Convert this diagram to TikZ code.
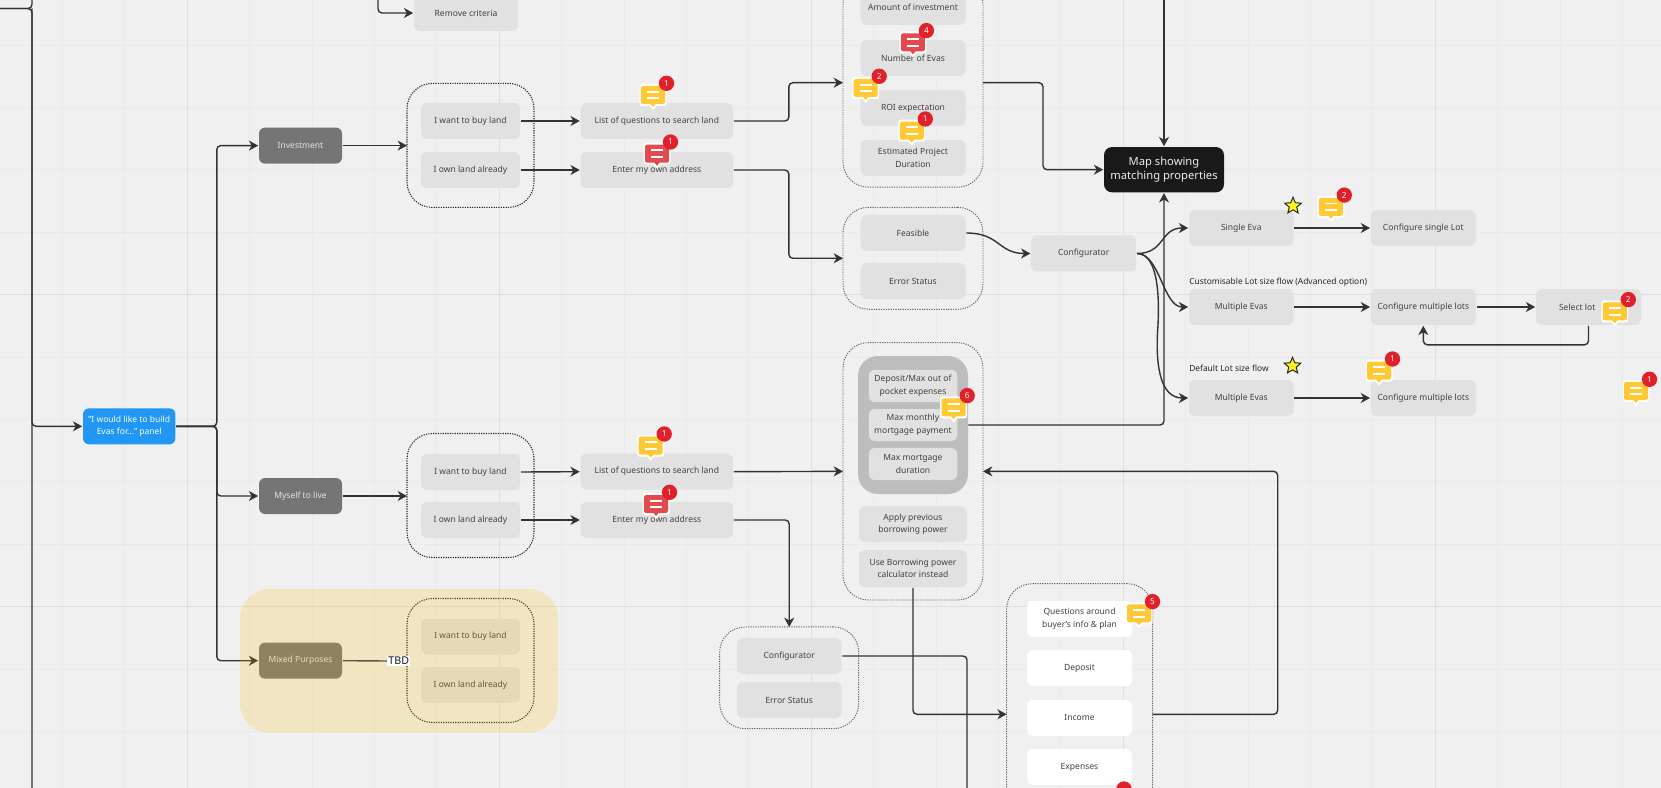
\documentclass[tikz,border=0pt]{standalone}
\usepackage{fontspec}
\setmainfont{Noto Sans}
\usetikzlibrary{arrows.meta,shapes.geometric}
\definecolor{bgc}{HTML}{F0F0F0}
\definecolor{gridc}{HTML}{EAEAEA}
\definecolor{boxc}{HTML}{E1E1E1}
\definecolor{txtc}{HTML}{424242}
\definecolor{darkc}{HTML}{757575}
\definecolor{bluec}{HTML}{2196F3}
\definecolor{linec}{HTML}{333333}
\definecolor{yelc}{HTML}{FFC935}
\definecolor{redc}{HTML}{E34A4F}
\definecolor{badgec}{HTML}{E0202A}
\definecolor{graybox}{HTML}{BDBDBD}
\definecolor{overlayc}{RGB}{255,192,0}
\tikzset{
  wh/.style 2 args={minimum width=#1*0.75pt,minimum height=#2*0.75pt},
  basebox/.style={rectangle,inner sep=0pt,outer sep=0.6pt,align=center,rounded corners=4.5pt,
    font=\fontsize{6.4}{9.5}\selectfont},
  box/.style={basebox,fill=boxc,text=txtc},
  whitebox/.style={basebox,fill=white,text=txtc},
  darkbox/.style={basebox,fill=darkc,text=white!90!black},
  bluebox/.style={basebox,fill=bluec,text=white},
  mapbox/.style={basebox,fill=black!90,text=white!92!black,rounded corners=6pt,font=\fontsize{8.4}{10.8}\selectfont},
  grpdark/.style={rectangle,draw=black!85,line width=0.8pt,dash pattern=on 0.9pt off 0.9pt,rounded corners=19pt,inner sep=0pt,outer sep=0pt},
  grplight/.style={rectangle,draw=black!60,line width=0.7pt,dash pattern=on 0.9pt off 0.9pt,rounded corners=19pt,inner sep=0pt,outer sep=0pt},
  conn/.style={draw=linec,line width=1.05pt,rounded corners=3pt,-{Stealth[length=7pt,width=7.5pt,inset=2.2pt]}},
  plain/.style={draw=linec,line width=1.05pt,rounded corners=3pt},
  flowlabel/.style={font=\fontsize{6.3}{8}\selectfont\bfseries,text=black!85,anchor=west,inner sep=0pt},
  starmark/.style={star,star points=5,star point ratio=2.2,fill=yellow!90!white,draw=black!85,line width=0.75pt,inner sep=0pt,minimum size=13pt},
}
% comment marker: name, x, y, fill colour, number
\newcommand{\cmtmark}[5]{%
  \fill[white,rounded corners=2pt] (#2-13.5,#3-11) rectangle (#2+13.5,#3+11);
  \fill[white] (#2-5,#3+9) -- (#2,#3+15) -- (#2+5,#3+9) -- cycle;
  \node[rectangle,fill=#4,rounded corners=1.6pt,minimum width=18pt,minimum height=13.5pt,inner sep=0pt] (#1) at (#2,#3) {};
  \fill[#4] (#2-3,#3+8.5) -- (#2,#3+12) -- (#2+3,#3+8.5) -- cycle;
  \draw[white,line width=1.4pt] (#2-6,#3-3.3) -- (#2+6,#3-3.3) (#2-6,#3+3.3) -- (#2+6,#3+3.3);
  \node[circle,fill=badgec,minimum size=11.5pt,inner sep=0pt,text=white,font=\fontsize{6.2}{7}\selectfont\bfseries] (#1b) at (#2+13.5,#3-11.7) {#5};
}
\begin{document}
\begin{tikzpicture}[x=0.75pt,y=-0.75pt]
\useasboundingbox (0,0) rectangle (1661,788);
\clip (0,0) rectangle (1661,788);
\fill[bgc] (0,0) rectangle (1661,788);
% grid
\foreach \k in {1,2,4,5,6,7,9,10,11,12,14,15,16,17,19,20,21,22,24,25,26}
  \draw[gridc,line width=0.6pt] (\k*62.4,0) -- (\k*62.4,788);
\foreach \k in {0,1,2,3,5,6,7,8,10,11,12}
  \draw[gridc,line width=0.6pt] (0,45+\k*62.4) -- (1661,45+\k*62.4);
\foreach \k in {3,8,13,18,23}
  \draw[gridc!95!black,line width=0.9pt] (\k*62.4,0) -- (\k*62.4,788);
\foreach \k in {4,9}
  \draw[gridc!95!black,line width=0.9pt] (0,45+\k*62.4) -- (1661,45+\k*62.4);

% groups
\node[grpdark,wh={127}{124}] (g1) at (470.5,145.4) {};
\node[grpdark,wh={127}{124}] (g2) at (470.5,495.5) {};
\node[grpdark,wh={127}{124}] (g3) at (470.5,660.5) {};
\node[grplight,wh={140}{209}] (gtop) at (913,82.7) {};
\node[grplight,wh={140}{102}] (gfeas) at (913,258.3) {};
\node[grplight,wh={140}{257.3}] (gbig) at (913,471.35) {};
\node[grplight,wh={139}{101.7}] (gconf) at (789.2,677.8) {};
\node[grplight,wh={146}{261.2}] (gq) at (1079.7,714.3) {};
\node[rectangle,fill=graybox,rounded corners=15pt,wh={110}{138},inner sep=0pt] (gray) at (913,425) {};

% boxes
\node[box,wh={104}{36}] (rem) at (466,13) {Remove criteria};
\node[bluebox,wh={92.4}{36}] (blue) at (129.2,426.3) {"I would like to build\\Evas for..." panel};
\node[darkbox,wh={83}{36}] (inv) at (300.5,145.6) {Investment};
\node[darkbox,wh={83}{36}] (myself) at (300.5,496) {Myself to live};
\node[darkbox,wh={83}{36}] (mixed) at (300.5,660.7) {Mixed Purposes};

\node[box,wh={99}{36}] (buy1) at (470.5,121) {I want to buy land};
\node[box,wh={99}{36}] (own1) at (470.5,170) {I own land already};
\node[box,wh={99}{36}] (buy2) at (470.5,472) {I want to buy land};
\node[box,wh={99}{36}] (own2) at (470.5,520) {I own land already};
\node[box,wh={99}{36}] (buy3) at (470.5,636.5) {I want to buy land};
\node[box,wh={99}{36}] (own3) at (470.5,685) {I own land already};

\node[box,wh={152.5}{36}] (list1) at (656.8,121) {List of questions to search land};
\node[box,wh={152.5}{36}] (enter1) at (656.8,170) {Enter my own address};
\node[box,wh={152.5}{36}] (list2) at (656.8,471.7) {List of questions to search land};
\node[box,wh={152.5}{36}] (enter2) at (656.8,520) {Enter my own address};

\node[box,wh={105}{36}] (amt) at (913,7) {Amount of investment};
\node[box,wh={105}{36}] (num) at (913,58) {Number of Evas};
\node[box,wh={105}{36}] (roi) at (913,108) {ROI expectation};
\node[box,wh={105}{36}] (dur) at (913,158) {Estimated Project\\Duration};
\node[box,wh={105}{36}] (feas) at (913,233) {Feasible};
\node[box,wh={105}{36}] (err1) at (913,281) {Error Status};
\node[box,wh={105}{36}] (conf1) at (1083.7,253.5) {Configurator};

\node[box,wh={88.5}{32.4}] (dep) at (913,386) {Deposit/Max out of\\pocket expenses};
\node[box,wh={88.5}{32}] (mon) at (913,425) {Max monthly\\mortgage payment};
\node[box,wh={88.5}{32}] (mdur) at (913,464) {Max mortgage\\duration};
\node[box,wh={108}{36}] (apply) at (913,524.3) {Apply previous\\borrowing power};
\node[box,wh={108}{37}] (use) at (913,568.5) {Use Borrowing power\\calculator instead};

\node[box,wh={104.5}{36}] (conf2) at (789.2,656) {Configurator};
\node[box,wh={104.5}{36}] (err2) at (789.2,700) {Error Status};

\node[whitebox,wh={105}{36}] (q1) at (1079.5,618.8) {Questions around\\buyer's info \& plan};
\node[whitebox,wh={105}{36}] (q2) at (1079.5,668) {Deposit};
\node[whitebox,wh={105}{36}] (q3) at (1079.5,717.8) {Income};
\node[whitebox,wh={105}{36}] (q4) at (1079.5,767) {Expenses};

\node[mapbox,wh={120}{45.3}] (map) at (1164,169.7) {Map showing\\matching properties};

\node[box,wh={104.6}{36}] (single) at (1241.3,228) {Single Eva};
\node[box,wh={104.9}{36}] (cfgs) at (1423.3,228) {Configure single Lot};
\node[box,wh={104.6}{36}] (mult1) at (1241.3,307) {Multiple Evas};
\node[box,wh={104.9}{36}] (cfgm1) at (1423.3,307) {Configure multiple lots};
\node[box,wh={105}{36}] (sel) at (1588.5,307) {\hspace*{-17pt}Select lot};
\node[box,wh={104.6}{36}] (mult2) at (1241.3,398) {Multiple Evas};
\node[box,wh={104.9}{36}] (cfgm2) at (1423.3,398) {Configure multiple lots};

\node[flowlabel] (lab1) at (1189,282.7) {Customisable Lot size flow (Advanced option)};
\node[flowlabel] (lab2) at (1189,368.7) {Default Lot size flow};
\node[starmark] (star1) at (1293,205.9) {};
\node[starmark] (star2) at (1292.5,365.9) {};

% free ends
\coordinate (rtop) at (378,-12);
\coordinate (maptop) at (1164,-12);
\coordinate (left) at (-6,8.5);
\coordinate (spinetop) at (32,-12);
\coordinate (spinemid) at (32,8.5);
\coordinate (spinebot) at (32,800);
\coordinate (fork) at (216.8,426.3);
\coordinate (cbot) at (967,800);

% connectors
\draw[plain] (left) -| (spinetop);
\draw[plain] (left) -| (spinebot);
\draw[conn] (spinemid) |- (blue.west);
\draw[conn] (rtop) |- (rem.west);
\draw[conn] (blue.east) -- (fork) |- (inv.west);
\draw[conn] (blue.east) -- (fork) |- (myself.west);
\draw[conn] (blue.east) -- (fork) |- (mixed.west);
\draw[conn] (inv.east) -- (inv.east -| g1.west);
\draw[conn] (myself.east) -- (myself.east -| g2.west);
\draw[conn] (buy1.east) -- (list1.west);
\draw[conn] (own1.east) -- (enter1.west);
\draw[conn] (buy2.east) -- (list2.west);
\draw[conn] (own2.east) -- (enter2.west);
\draw[conn] (list1.east) -- ++(55,0) |- (gtop.west);
\draw[conn] (enter1.east) -- ++(55,0) |- (gfeas.west);
\draw[conn] (list2.east) -- (gbig.west);
\draw[conn] (enter2.east) -| (gconf.north);
\draw[conn] (gtop.east) -- ++(60,0) |- (map.west);
\draw[conn] (maptop) -- (map.north);
\draw[conn] (gray.east) -| (map.south);
\draw[conn,rounded corners=0pt] (feas.east) .. controls (1000,233) and (998,253.5) .. (conf1.west);
\draw[conn,rounded corners=0pt] (conf1.east) .. controls (1165,253.5) and (1160,228) .. (single.west);
\draw[conn,rounded corners=0pt] (conf1.east) .. controls (1160,253.5) and (1163,307) .. (mult1.west);
\draw[conn,rounded corners=0pt] (conf1.east) .. controls (1155,253.5) and (1160,285) .. (1158,325) .. controls (1155,365) and (1160,398) .. (mult2.west);
\draw[conn] (single.east) -- (cfgs.west);
\draw[conn] (mult1.east) -- (cfgm1.west);
\draw[conn] (cfgm1.east) -- (sel.west);
\draw[conn] (mult2.east) -- (cfgm2.west);
\draw[conn] (sel.south) -- ++(0,19) -| (cfgm1.south);
\draw[conn] (use.south) |- (gq.west);
\draw[conn] (gq.east) -- ++(125,0) |- (gbig.east);
\draw[plain] (conf2.east) -| (cbot);

% comment markers
\cmtmark{c1}{653}{95}{yelc}{1}
\cmtmark{c2}{657}{153.7}{redc}{1}
\cmtmark{c3}{912.9}{42.3}{redc}{4}
\cmtmark{c4}{865.7}{88}{yelc}{2}
\cmtmark{c5}{911.8}{130.7}{yelc}{1}
\cmtmark{c6}{650.7}{445.7}{yelc}{1}
\cmtmark{c7}{656}{504}{redc}{1}
\cmtmark{c8}{953.7}{407.3}{yelc}{6}
\cmtmark{c9}{1139}{613.3}{yelc}{5}
\cmtmark{c11}{1330.8}{206.8}{yelc}{2}
\cmtmark{c12}{1614.8}{311.3}{yelc}{2}
\cmtmark{c13}{1379}{370.7}{yelc}{1}
\cmtmark{c14}{1636}{391}{yelc}{1}
\node[circle,fill=badgec,minimum size=11.5pt,inner sep=0pt] (c10b) at (1124,789) {};

% overlay and TBD
\fill[overlayc,opacity=0.19,rounded corners=22pt] (240,589) rectangle (558,732.7);
\node[rectangle,fill=white,inner sep=0.8pt,font=\fontsize{8}{9}\selectfont\bfseries,text=black!90] (tbd) at (398.8,661) {TBD};
\draw[draw=linec,draw opacity=0.8,line width=1.05pt] (mixed.east) -- (tbd.west);
\end{tikzpicture}
\end{document}
